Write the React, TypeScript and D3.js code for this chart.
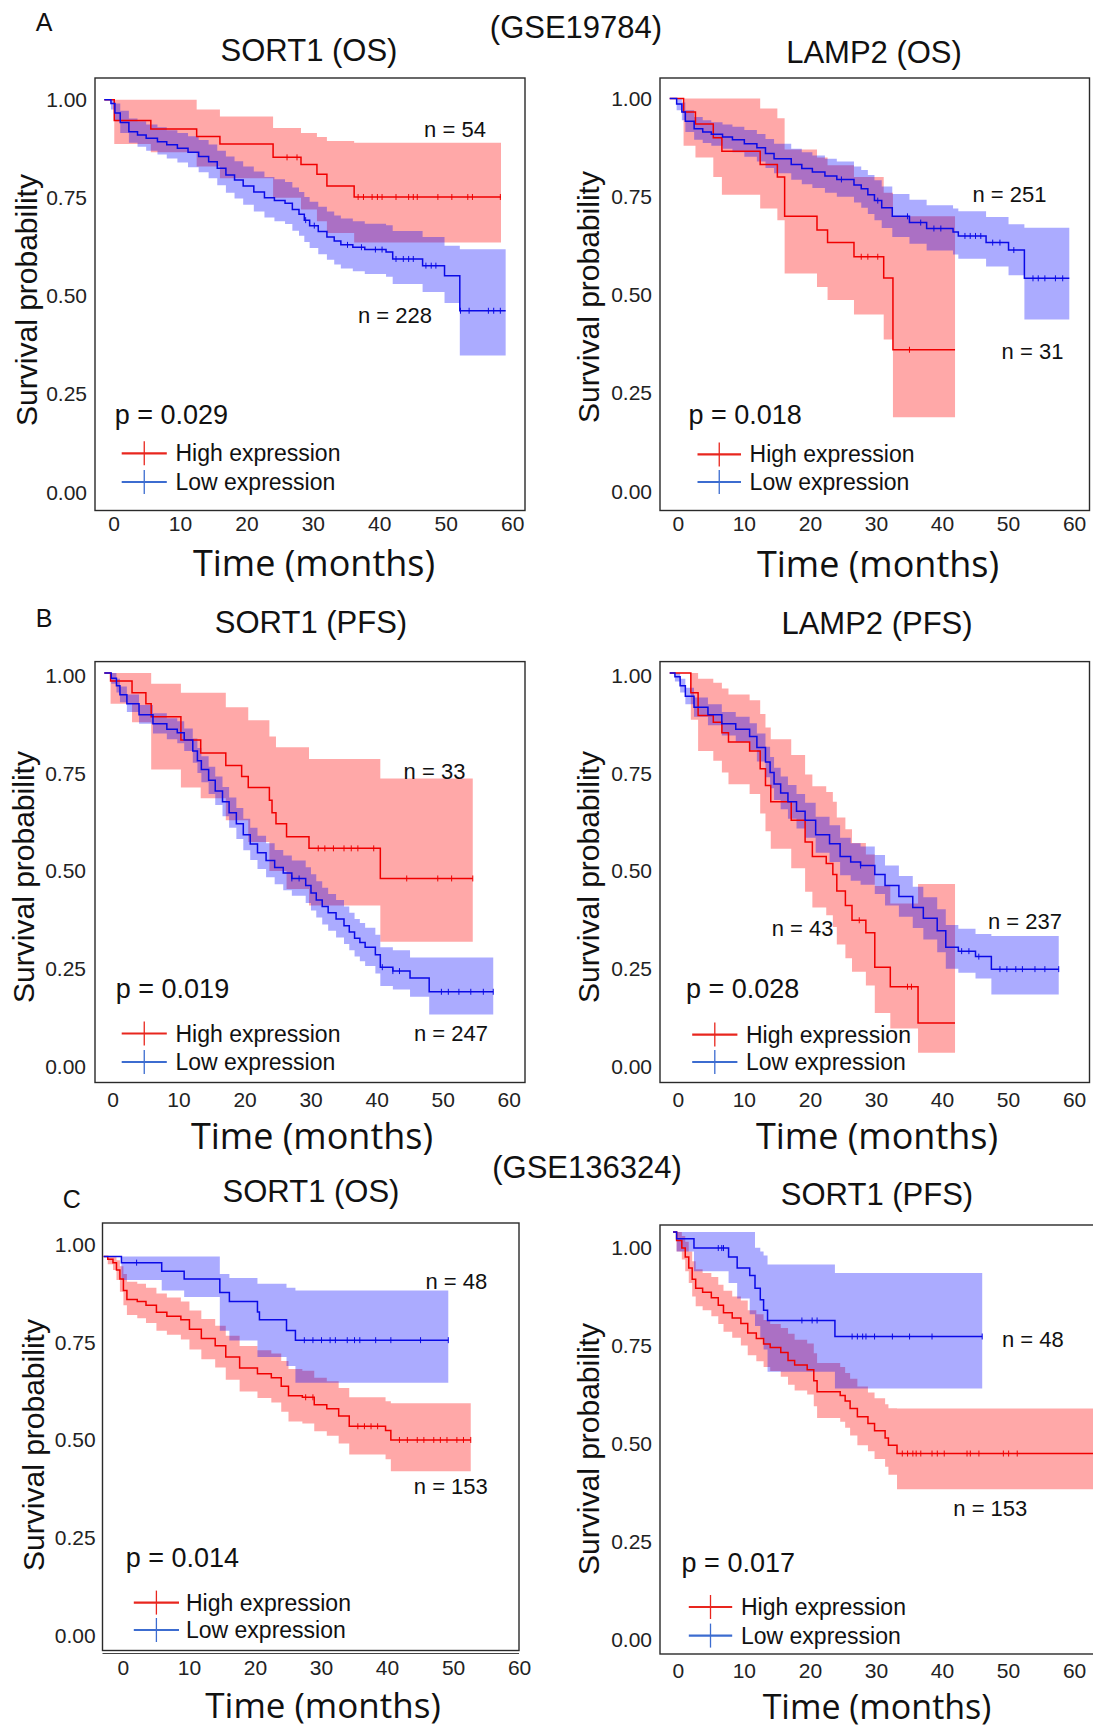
import React from 'react';
import * as d3 from 'd3';

type Pt = [number, number];
type Ci = [number, number, number];

const timeTicks = [0, 10, 20, 30, 40, 50, 60];
const probTicks = [0, 0.25, 0.5, 0.75, 1];
const legendLabels = ['High expression', 'Low expression'];
const datasetLabels = ['(GSE19784)', '(GSE136324)'];
const panelLetters = ['A', 'B', 'C'];

// ---------- A left: GSE19784 SORT1 (OS) ----------
const sortOsHigh: Pt[] = [[0, 1], [1.5, 0.947], [7.0, 0.925], [13.9, 0.906], [17.4, 0.887], [25.4, 0.853], [29.6, 0.835], [32.0, 0.81], [33.5, 0.78], [37.6, 0.752], [59.7, 0.752]];
const sortOsHighCI: Ci[] = [[0, 1, 1], [1.5, 0.887, 1], [7.0, 0.866, 1], [13.9, 0.83, 0.975], [17.4, 0.8, 0.957], [25.4, 0.75, 0.928], [29.6, 0.72, 0.915], [32.0, 0.69, 0.905], [33.5, 0.66, 0.895], [37.6, 0.636, 0.89], [59.7, 0.636, 0.89]];
const sortOsLow: Pt[] = [[0, 1], [1.0, 0.99], [1.6, 0.966], [2.4, 0.942], [3.7, 0.918], [5.0, 0.91], [6.3, 0.902], [8.0, 0.893], [9.4, 0.885], [11.0, 0.876], [12.6, 0.866], [14.2, 0.855], [15.7, 0.842], [17.0, 0.825], [18.3, 0.808], [19.6, 0.795], [20.9, 0.78], [22.5, 0.765], [24.1, 0.75], [25.6, 0.743], [27.2, 0.736], [28.3, 0.72], [29.3, 0.708], [30.1, 0.693], [30.9, 0.679], [32.2, 0.664], [33.5, 0.65], [34.6, 0.64], [35.6, 0.63], [37.4, 0.624], [39.2, 0.618], [42.4, 0.612], [43.4, 0.594], [47.9, 0.577], [51.2, 0.551], [53.5, 0.462], [60.4, 0.462]];
const sortOsLowCI: Ci[] = [[0, 1, 1], [1.0, 0.975, 1], [1.6, 0.945, 0.99], [2.4, 0.915, 0.972], [3.7, 0.89, 0.952], [5.0, 0.88, 0.945], [6.3, 0.87, 0.937], [8.0, 0.86, 0.93], [9.4, 0.85, 0.922], [11.0, 0.84, 0.915], [12.6, 0.828, 0.907], [14.2, 0.815, 0.897], [15.7, 0.8, 0.886], [17.0, 0.782, 0.87], [18.3, 0.763, 0.855], [19.6, 0.748, 0.843], [20.9, 0.732, 0.83], [22.5, 0.715, 0.817], [24.1, 0.7, 0.803], [25.6, 0.69, 0.797], [27.2, 0.683, 0.79], [28.3, 0.666, 0.776], [29.3, 0.653, 0.765], [30.1, 0.637, 0.752], [30.9, 0.622, 0.74], [32.2, 0.606, 0.727], [33.5, 0.592, 0.715], [34.6, 0.58, 0.705], [35.6, 0.57, 0.697], [37.4, 0.563, 0.69], [39.2, 0.556, 0.684], [42.4, 0.549, 0.68], [43.4, 0.53, 0.665], [47.9, 0.51, 0.65], [51.2, 0.482, 0.628], [53.5, 0.348, 0.619], [60.4, 0.348, 0.619]];
const sortOsHighCens = [27.5, 29.0, 38.2, 39.0, 40.3, 41.1, 41.8, 43.9, 45.8, 46.5, 47.1, 50.2, 52.3, 54.7, 55.4, 59.6];
const sortOsLowCens = [30.3, 31.6, 36.6, 38.7, 40.8, 41.8, 43.9, 45.0, 45.8, 46.5, 48.4, 49.2, 49.9, 53.6, 54.9, 57.8, 58.6, 59.6];

// ---------- A right: GSE19784 LAMP2 (OS) ----------
const lampOsHigh: Pt[] = [[0, 1], [2.1, 0.966], [3.9, 0.935], [6.6, 0.9], [7.9, 0.866], [13.7, 0.832], [16.3, 0.8], [17.4, 0.7], [22.3, 0.665], [23.9, 0.633], [27.9, 0.597], [32.4, 0.543], [33.8, 0.36], [43.2, 0.36]];
const lampOsHighCI: Ci[] = [[0, 1, 1], [2.1, 0.88, 1], [3.9, 0.85, 1], [6.6, 0.8, 1], [7.9, 0.755, 1], [13.7, 0.72, 0.975], [16.3, 0.69, 0.95], [17.4, 0.554, 0.87], [22.3, 0.52, 0.85], [23.9, 0.487, 0.83], [27.9, 0.45, 0.8], [32.4, 0.386, 0.76], [33.8, 0.188, 0.7], [43.2, 0.188, 0.7]];
const lampOsLow: Pt[] = [[0, 1], [1.05, 0.986], [1.84, 0.966], [2.37, 0.942], [3.7, 0.923], [5.0, 0.915], [6.3, 0.909], [8.0, 0.902], [9.5, 0.895], [11.3, 0.885], [13.2, 0.875], [14.5, 0.86], [15.8, 0.847], [18.4, 0.832], [20.0, 0.822], [21.6, 0.813], [23.5, 0.803], [25.3, 0.794], [27.9, 0.78], [29.0, 0.77], [30.0, 0.755], [31.0, 0.74], [32.1, 0.722], [33.7, 0.7], [36.3, 0.684], [38.9, 0.669], [42.9, 0.66], [43.7, 0.65], [47.9, 0.633], [51.3, 0.614], [53.7, 0.542], [60.5, 0.542]];
const lampOsLowCI: Ci[] = [[0, 1, 1], [1.05, 0.97, 1], [1.84, 0.945, 0.99], [2.37, 0.915, 0.97], [3.7, 0.895, 0.953], [5.0, 0.887, 0.945], [6.3, 0.88, 0.94], [8.0, 0.872, 0.934], [9.5, 0.863, 0.928], [11.3, 0.852, 0.92], [13.2, 0.84, 0.91], [14.5, 0.823, 0.897], [15.8, 0.81, 0.885], [18.4, 0.793, 0.872], [20.0, 0.782, 0.863], [21.6, 0.772, 0.855], [23.5, 0.76, 0.847], [25.3, 0.75, 0.84], [27.9, 0.735, 0.827], [29.0, 0.722, 0.818], [30.0, 0.706, 0.805], [31.0, 0.69, 0.792], [32.1, 0.67, 0.776], [33.7, 0.647, 0.757], [36.3, 0.63, 0.742], [38.9, 0.613, 0.728], [42.9, 0.603, 0.72], [43.7, 0.592, 0.713], [47.9, 0.572, 0.698], [51.3, 0.55, 0.68], [53.7, 0.437, 0.671], [60.5, 0.437, 0.671]];
const lampOsHighCens = [29.0, 30.0, 31.5, 36.3];
const lampOsLowCens = [26.0, 31.5, 36.0, 38.0, 40.0, 41.05, 44.7, 45.5, 46.3, 47.1, 48.9, 50.0, 52.1, 55.0, 55.8, 56.8, 58.4, 59.5];

// ---------- B left: GSE19784 SORT1 (PFS) ----------
const sortPfsHigh: Pt[] = [[0, 1], [0.95, 0.979], [4.2, 0.949], [6.3, 0.921], [7.1, 0.888], [11.6, 0.828], [14.6, 0.795], [18.4, 0.763], [20.8, 0.735], [21.8, 0.707], [25.0, 0.674], [25.4, 0.642], [26.0, 0.614], [27.6, 0.581], [31.0, 0.551], [41.8, 0.474], [55.8, 0.474]];
const sortPfsHighCI: Ci[] = [[0, 1, 1], [0.95, 0.921, 1], [4.2, 0.874, 1], [7.1, 0.753, 0.972], [11.6, 0.707, 0.949], [14.6, 0.679, 0.949], [18.4, 0.623, 0.912], [21.8, 0.567, 0.879], [25.0, 0.493, 0.837], [26.0, 0.493, 0.81], [27.6, 0.447, 0.81], [31.0, 0.405, 0.78], [41.8, 0.312, 0.73], [55.8, 0.312, 0.73]];
const sortPfsLow: Pt[] = [[0, 1], [1.05, 0.986], [1.84, 0.967], [2.37, 0.944], [3.42, 0.921], [5.26, 0.893], [7.37, 0.87], [9.47, 0.856], [11.05, 0.847], [12.1, 0.828], [13.4, 0.8], [14.1, 0.775], [14.7, 0.753], [15.8, 0.725], [16.8, 0.698], [17.9, 0.67], [18.9, 0.642], [20.0, 0.614], [21.05, 0.586], [22.1, 0.562], [23.2, 0.54], [24.5, 0.52], [25.8, 0.502], [27.1, 0.488], [28.4, 0.474], [30.5, 0.456], [31.3, 0.437], [32.1, 0.419], [33.0, 0.402], [33.9, 0.386], [35.1, 0.37], [36.3, 0.353], [37.1, 0.337], [37.9, 0.321], [38.7, 0.31], [39.5, 0.298], [41.05, 0.279], [41.8, 0.247], [43.7, 0.237], [46.3, 0.219], [49.2, 0.184], [58.9, 0.184]];
const sortPfsLowCI: Ci[] = [[0, 1, 1], [1.05, 0.972, 1], [1.84, 0.95, 0.985], [2.37, 0.925, 0.965], [3.42, 0.9, 0.945], [5.26, 0.87, 0.918], [7.37, 0.845, 0.897], [9.47, 0.83, 0.884], [11.05, 0.82, 0.876], [12.1, 0.8, 0.858], [13.4, 0.77, 0.832], [14.1, 0.744, 0.808], [14.7, 0.72, 0.787], [15.8, 0.69, 0.76], [16.8, 0.662, 0.735], [17.9, 0.633, 0.708], [18.9, 0.604, 0.681], [20.0, 0.575, 0.654], [21.05, 0.546, 0.627], [22.1, 0.521, 0.604], [23.2, 0.498, 0.583], [24.5, 0.477, 0.564], [25.8, 0.459, 0.547], [27.1, 0.444, 0.533], [28.4, 0.43, 0.52], [30.5, 0.411, 0.503], [31.3, 0.392, 0.485], [32.1, 0.374, 0.467], [33.0, 0.356, 0.45], [33.9, 0.34, 0.434], [35.1, 0.323, 0.419], [36.3, 0.306, 0.402], [37.1, 0.29, 0.386], [37.9, 0.274, 0.37], [38.7, 0.262, 0.36], [39.5, 0.25, 0.348], [41.05, 0.231, 0.33], [41.8, 0.199, 0.298], [43.7, 0.19, 0.29], [46.3, 0.171, 0.272], [49.2, 0.126, 0.272], [58.9, 0.126, 0.272]];
const sortPfsHighCens = [32.4, 33.4, 34.7, 36.3, 37.4, 38.4, 40.8, 45.8, 50.5, 52.6, 55.8];
const sortPfsLowCens = [28.4, 29.5, 42.1, 43.7, 44.7, 51.05, 52.1, 53.7, 55.5, 57.4, 58.9];

// ---------- B right: GSE19784 LAMP2 (PFS) ----------
const lampPfsHigh: Pt[] = [[0, 1], [3.2, 0.949], [4.3, 0.891], [6.6, 0.874], [7.9, 0.847], [8.9, 0.823], [12.1, 0.8], [13.7, 0.755], [14.5, 0.712], [15.3, 0.67], [18.4, 0.623], [20.5, 0.567], [21.6, 0.53], [23.7, 0.512], [24.7, 0.484], [25.3, 0.442], [26.6, 0.405], [27.6, 0.367], [29.7, 0.335], [31.05, 0.247], [33.4, 0.197], [37.6, 0.104], [43.2, 0.104]];
const lampPfsHighCI: Ci[] = [[0, 1, 1], [3.2, 0.88, 1], [4.3, 0.8, 0.985], [6.6, 0.775, 0.975], [7.9, 0.745, 0.96], [8.9, 0.715, 0.945], [12.1, 0.69, 0.93], [13.7, 0.64, 0.895], [14.5, 0.595, 0.86], [15.3, 0.55, 0.83], [18.4, 0.5, 0.79], [20.5, 0.44, 0.74], [21.6, 0.4, 0.71], [23.7, 0.38, 0.695], [24.7, 0.35, 0.67], [25.3, 0.305, 0.63], [26.6, 0.27, 0.6], [27.6, 0.235, 0.565], [29.7, 0.2, 0.535], [31.05, 0.13, 0.455], [33.4, 0.09, 0.41], [37.6, 0.028, 0.46], [43.2, 0.028, 0.46]];
const lampPfsLow: Pt[] = [[0, 1], [0.79, 0.99], [1.58, 0.967], [2.37, 0.94], [3.68, 0.912], [5.79, 0.893], [7.89, 0.87], [10.0, 0.856], [12.1, 0.837], [13.2, 0.809], [14.5, 0.772], [15.2, 0.745], [15.8, 0.716], [16.8, 0.693], [17.9, 0.67], [19.2, 0.646], [20.5, 0.623], [22.1, 0.586], [24.2, 0.563], [25.8, 0.53], [27.4, 0.516], [28.9, 0.507], [31.05, 0.484], [32.6, 0.456], [34.7, 0.428], [36.8, 0.4], [38.4, 0.372], [40.5, 0.34], [41.8, 0.298], [43.7, 0.288], [46.3, 0.274], [48.7, 0.242], [58.9, 0.242]];
const lampPfsLowCI: Ci[] = [[0, 1, 1], [0.79, 0.978, 1], [1.58, 0.95, 0.985], [2.37, 0.92, 0.962], [3.68, 0.888, 0.937], [5.79, 0.866, 0.92], [7.89, 0.84, 0.9], [10.0, 0.824, 0.888], [12.1, 0.803, 0.871], [13.2, 0.773, 0.845], [14.5, 0.733, 0.811], [15.2, 0.705, 0.785], [15.8, 0.675, 0.757], [16.8, 0.651, 0.735], [17.9, 0.627, 0.713], [19.2, 0.602, 0.69], [20.5, 0.578, 0.668], [22.1, 0.54, 0.632], [24.2, 0.516, 0.61], [25.8, 0.482, 0.578], [27.4, 0.468, 0.564], [28.9, 0.458, 0.556], [31.05, 0.434, 0.534], [32.6, 0.405, 0.507], [34.7, 0.376, 0.48], [36.8, 0.347, 0.453], [38.4, 0.318, 0.426], [40.5, 0.285, 0.395], [41.8, 0.243, 0.355], [43.7, 0.233, 0.345], [46.3, 0.218, 0.332], [48.7, 0.177, 0.327], [58.9, 0.177, 0.327]];
const lampPfsHighCens = [28.7, 36.0, 36.6];
const lampPfsLowCens = [28.9, 44.2, 45.3, 46.8, 50.0, 51.05, 52.4, 53.4, 55.3, 56.8, 58.9];

// ---------- C left: GSE136324 SORT1 (OS) ----------
const cOsHigh: Pt[] = [[0, 1], [0.63, 0.993], [1.42, 0.984], [1.95, 0.965], [2.47, 0.942], [3.0, 0.913], [3.53, 0.89], [5.1, 0.885], [6.42, 0.875], [8.0, 0.857], [9.58, 0.847], [11.7, 0.838], [13.0, 0.814], [14.8, 0.79], [16.9, 0.772], [18.5, 0.743], [20.6, 0.715], [23.3, 0.7], [25.4, 0.69], [26.9, 0.668], [28.0, 0.644], [30.1, 0.64], [31.9, 0.621], [33.8, 0.611], [35.6, 0.592], [37.2, 0.566], [42.7, 0.555], [43.5, 0.531], [55.6, 0.531]];
const cOsHighCI: Ci[] = [[0, 1, 1], [0.63, 0.98, 1], [1.42, 0.965, 1], [1.95, 0.94, 0.99], [2.47, 0.91, 0.975], [3.0, 0.875, 0.955], [3.53, 0.85, 0.935], [5.1, 0.842, 0.93], [6.42, 0.83, 0.92], [8.0, 0.81, 0.905], [9.58, 0.8, 0.895], [11.7, 0.788, 0.885], [13.0, 0.762, 0.862], [14.8, 0.737, 0.84], [16.9, 0.716, 0.823], [18.5, 0.685, 0.797], [20.6, 0.655, 0.771], [23.3, 0.638, 0.76], [25.4, 0.627, 0.752], [26.9, 0.603, 0.733], [28.0, 0.578, 0.712], [30.1, 0.573, 0.708], [31.9, 0.553, 0.69], [33.8, 0.542, 0.681], [35.6, 0.522, 0.664], [37.2, 0.494, 0.64], [42.7, 0.482, 0.63], [43.5, 0.451, 0.625], [55.6, 0.451, 0.625]];
const cOsLow: Pt[] = [[0, 1], [2.7, 0.984], [8.8, 0.962], [12.2, 0.942], [17.6, 0.908], [19.05, 0.885], [23.3, 0.858], [23.6, 0.838], [27.7, 0.811], [29.05, 0.786], [52.2, 0.786]];
const cOsLowCI: Ci[] = [[0, 1, 1], [2.7, 0.94, 1], [8.8, 0.913, 1], [12.2, 0.896, 1], [17.6, 0.81, 0.955], [19.05, 0.785, 0.945], [23.3, 0.743, 0.93], [27.7, 0.72, 0.92], [29.05, 0.677, 0.913], [52.2, 0.677, 0.913]];
const cOsHighCens = [30.6, 31.7, 38.5, 39.5, 40.5, 41.5, 44.8, 46.0, 47.5, 48.5, 50.0, 51.0, 52.0, 53.5, 54.5, 55.6];
const cOsLowCens = [5.0, 30.4, 31.7, 33.0, 34.3, 35.1, 36.9, 38.0, 38.8, 41.2, 43.5, 48.0, 52.2];

// ---------- C right: GSE136324 SORT1 (PFS) ----------
const cPfsHigh: Pt[] = [[0, 1], [0.53, 0.978], [1.32, 0.959], [1.84, 0.936], [2.37, 0.908], [2.89, 0.879], [3.42, 0.856], [4.47, 0.846], [5.79, 0.832], [6.84, 0.813], [7.63, 0.794], [8.95, 0.78], [10.26, 0.766], [11.3, 0.742], [12.6, 0.728], [13.7, 0.714], [14.7, 0.705], [16.3, 0.692], [17.4, 0.672], [18.4, 0.66], [20.3, 0.648], [21.3, 0.62], [21.8, 0.592], [25.3, 0.582], [26.05, 0.568], [26.8, 0.549], [27.9, 0.528], [29.5, 0.511], [30.5, 0.492], [32.1, 0.474], [32.6, 0.455], [33.9, 0.434], [66, 0.434]];
const cPfsHighCI: Ci[] = [[0, 1, 1], [0.53, 0.95, 1], [1.32, 0.93, 0.99], [1.84, 0.9, 0.975], [2.37, 0.87, 0.95], [2.89, 0.835, 0.925], [3.42, 0.81, 0.905], [4.47, 0.8, 0.895], [5.79, 0.785, 0.885], [6.84, 0.765, 0.865], [7.63, 0.745, 0.85], [8.95, 0.73, 0.835], [10.26, 0.71, 0.825], [11.3, 0.685, 0.8], [12.6, 0.67, 0.79], [13.7, 0.655, 0.775], [14.7, 0.645, 0.765], [16.3, 0.63, 0.755], [17.4, 0.61, 0.74], [18.4, 0.595, 0.725], [20.3, 0.585, 0.715], [21.3, 0.555, 0.69], [21.8, 0.525, 0.665], [25.3, 0.515, 0.655], [26.05, 0.5, 0.64], [26.8, 0.48, 0.625], [27.9, 0.455, 0.605], [29.5, 0.44, 0.59], [30.5, 0.42, 0.575], [32.1, 0.4, 0.56], [32.6, 0.38, 0.55], [33.9, 0.343, 0.549], [66, 0.343, 0.549]];
const cPfsLow: Pt[] = [[0, 1], [0.53, 0.983], [3.16, 0.959], [8.4, 0.936], [9.7, 0.908], [11.6, 0.889], [12.4, 0.856], [13.2, 0.827], [13.7, 0.8], [14.3, 0.774], [24.5, 0.733], [46.8, 0.733]];
const cPfsLowCI: Ci[] = [[0, 1, 1], [0.53, 0.95, 1], [3.16, 0.9, 1], [8.4, 0.87, 1], [9.7, 0.83, 1], [11.6, 0.79, 1], [12.4, 0.76, 0.96], [13.2, 0.73, 0.95], [13.7, 0.7, 0.94], [14.3, 0.643, 0.917], [24.5, 0.6, 0.895], [46.8, 0.6, 0.895]];
const cPfsHighCens = [34.7, 35.5, 36.3, 36.8, 37.5, 39.2, 40.0, 41.05, 44.5, 45.0, 46.3, 50.0, 50.8, 52.1];
const cPfsLowCens = [6.84, 7.37, 7.63, 19.5, 21.05, 21.8, 27.1, 27.9, 28.7, 29.2, 30.5, 33.2, 35.8, 39.2, 46.8];

interface Spec {
  title: string; tx: number; ty: number;
  frame: [number, number, number, number];
  xl: [number, number]; xc0: number; xTickY: number;
  yl: [number, number]; dy: number; yTickX: number;
  ylabX: number; ylabY: number; xtX: number; xtY: number; xtSize: number;
  high: Pt[]; highCI: Ci[]; highCens: number[];
  low: Pt[]; lowCI: Ci[]; lowCens: number[];
  p: string; px: number; py: number;
  lg: { x1: number; x2: number; tx: number; yH: number; yL: number };
  nH: { t: string; x: number; y: number }; nL: { t: string; x: number; y: number };
  doubleBottom?: boolean;
}

const specs: Spec[] = [
  {
    title: 'SORT1 (OS)', tx: 309, ty: 50, frame: [95, 78, 525, 510.5],
    xl: [114, 512.7], xc0: 104.3, xTickY: 523, yl: [492, 99.7], dy: 0, yTickX: 87,
    ylabX: 26, ylabY: 300, xtX: 314, xtY: 562, xtSize: 36,
    high: sortOsHigh, highCI: sortOsHighCI, highCens: sortOsHighCens,
    low: sortOsLow, lowCI: sortOsLowCI, lowCens: sortOsLowCens,
    p: 'p = 0.029', px: 114.7, py: 414.5,
    lg: { x1: 121.7, x2: 166.8, tx: 175.5, yH: 453.3, yL: 482 },
    nH: { t: 'n = 54', x: 455, y: 129.8 }, nL: { t: 'n = 228', x: 395, y: 315.3 },
  },
  {
    title: 'LAMP2 (OS)', tx: 874, ty: 52, frame: [660, 78, 1089.5, 510.5],
    xl: [678.3, 1074.6], xc0: 669.7, xTickY: 523, yl: [491, 98.6], dy: 0, yTickX: 652,
    ylabX: 588, ylabY: 297, xtX: 878, xtY: 563, xtSize: 36,
    high: lampOsHigh, highCI: lampOsHighCI, highCens: lampOsHighCens,
    low: lampOsLow, lowCI: lampOsLowCI, lowCens: lampOsLowCens,
    p: 'p = 0.018', px: 688.5, py: 414.5,
    lg: { x1: 697.5, x2: 741, tx: 749.6, yH: 454.4, yL: 482 },
    nH: { t: 'n = 31', x: 1032.5, y: 351.8 }, nL: { t: 'n = 251', x: 1009.4, y: 194.9 },
  },
  {
    title: 'SORT1 (PFS)', tx: 311, ty: 622, frame: [95, 661.6, 525, 1082.5],
    xl: [113, 509.2], xc0: 104.3, xTickY: 1099, yl: [1066.2, 675.4], dy: -2.5, yTickX: 86,
    ylabX: 23.3, ylabY: 877, xtX: 312, xtY: 1135, xtSize: 36,
    high: sortPfsHigh, highCI: sortPfsHighCI, highCens: sortPfsHighCens,
    low: sortPfsLow, lowCI: sortPfsLowCI, lowCens: sortPfsLowCens,
    p: 'p = 0.019', px: 115.8, py: 989,
    lg: { x1: 121.7, x2: 166.8, tx: 175.5, yH: 1033.5, yL: 1062 },
    nH: { t: 'n = 33', x: 434.5, y: 771.7 }, nL: { t: 'n = 247', x: 451, y: 1033.5 },
  },
  {
    title: 'LAMP2 (PFS)', tx: 877, ty: 623, frame: [660, 661.6, 1089.5, 1082.5],
    xl: [678.3, 1074.6], xc0: 669.7, xTickY: 1099, yl: [1066.2, 675.4], dy: -2.5, yTickX: 652,
    ylabX: 588, ylabY: 877, xtX: 877, xtY: 1135, xtSize: 36,
    high: lampPfsHigh, highCI: lampPfsHighCI, highCens: lampPfsHighCens,
    low: lampPfsLow, lowCI: lampPfsLowCI, lowCens: lampPfsLowCens,
    p: 'p = 0.028', px: 686, py: 989,
    lg: { x1: 692.2, x2: 737.4, tx: 746, yH: 1034.6, yL: 1062 },
    nH: { t: 'n = 43', x: 802.6, y: 928 }, nL: { t: 'n = 237', x: 1025, y: 921.5 },
  },
  {
    title: 'SORT1 (OS)', tx: 311, ty: 1191, frame: [102.5, 1223, 519, 1650.5],
    xl: [123.4, 519.6], xc0: 103.6, xTickY: 1667, yl: [1635.6, 1244.2], dy: 12.2, yTickX: 95.6,
    ylabX: 33.7, ylabY: 1445, xtX: 323, xtY: 1704, xtSize: 35,
    high: cOsHigh, highCI: cOsHighCI, highCens: cOsHighCens,
    low: cOsLow, lowCI: cOsLowCI, lowCens: cOsLowCens,
    p: 'p = 0.014', px: 125.7, py: 1558,
    lg: { x1: 133.8, x2: 179, tx: 186, yH: 1602.6, yL: 1630 },
    nH: { t: 'n = 153', x: 450.8, y: 1486 }, nL: { t: 'n = 48', x: 456.3, y: 1281 },
    doubleBottom: true,
  },
  {
    title: 'SORT1 (PFS)', tx: 877, ty: 1194.5, frame: [660, 1225, 1110, 1654],
    xl: [678.3, 1074.6], xc0: 673.1, xTickY: 1670, yl: [1639.3, 1247.9], dy: -15.9, yTickX: 652,
    ylabX: 588, ylabY: 1449, xtX: 877, xtY: 1706, xtSize: 34,
    high: cPfsHigh, highCI: cPfsHighCI, highCens: cPfsHighCens,
    low: cPfsLow, lowCI: cPfsLowCI, lowCens: cPfsLowCens,
    p: 'p = 0.017', px: 681.6, py: 1562.8,
    lg: { x1: 688.8, x2: 732.2, tx: 741, yH: 1607, yL: 1635.6 },
    nH: { t: 'n = 153', x: 990.3, y: 1508 }, nL: { t: 'n = 48', x: 1032.8, y: 1339 },
  },
];

const SANS = '"Liberation Sans", Arial, Helvetica, sans-serif';
const RED = '#f00000';
const BLUE = '#0a0ae6';
const LEG_RED = '#e8261e';
const LEG_BLUE = '#3c6cd0';

function valAt(c: Pt[], t: number) {
  let v = c[0][1];
  for (const p of c) if (p[0] <= t) v = p[1];
  return v;
}

function Panel({ s }: { s: Spec }) {
  const ppm = (s.xl[1] - s.xl[0]) / 60;
  const xL = d3.scaleLinear().domain([0, 60]).range(s.xl);
  const xC = d3.scaleLinear().domain([0, 60]).range([s.xc0, s.xc0 + 60 * ppm]);
  const yL = d3.scaleLinear().domain([0, 1]).range(s.yl);
  const yC = d3.scaleLinear().domain([0, 1]).range([s.yl[0] + s.dy, s.yl[1] + s.dy]);
  const area = d3.area<Ci>().x(d => xC(d[0])).y0(d => yC(d[1])).y1(d => yC(d[2])).curve(d3.curveStepAfter);
  const line = d3.line<Pt>().x(d => xC(d[0])).y(d => yC(d[1])).curve(d3.curveStepAfter);
  const fmt = d3.format('.2f');
  const [fx0, fy0, fx1, fy1] = s.frame;
  const cens = (c: Pt[], ts: number[], col: string) =>
    ts.map((t, i) => {
      const x = xC(t), y = yC(valAt(c, t));
      return <line key={i} x1={x} x2={x} y1={y - 3} y2={y + 3} stroke={col} strokeWidth={1} />;
    });
  return (
    <g>
      <text x={s.tx} y={s.ty} textAnchor="middle" dominantBaseline="central" fontFamily={SANS} fontSize={31} fill="#111">{s.title}</text>
      <path d={area(s.highCI) || ''} fill="#ff0000" fillOpacity={0.34} />
      <path d={area(s.lowCI) || ''} fill="#0000ff" fillOpacity={0.33} />
      <path d={line(s.high) || ''} fill="none" stroke={RED} strokeWidth={1.5} />
      <path d={line(s.low) || ''} fill="none" stroke={BLUE} strokeWidth={1.5} />
      {cens(s.high, s.highCens, RED)}
      {cens(s.low, s.lowCens, BLUE)}
      <rect x={fx0} y={fy0} width={fx1 - fx0} height={fy1 - fy0} fill="none" stroke="#2a2a2a" strokeWidth={1.4} />
      {s.doubleBottom && <line x1={fx0} x2={fx1} y1={fy1 + 3} y2={fy1 + 3} stroke="#444" strokeWidth={1.2} />}
      {probTicks.map(v => (
        <text key={v} x={s.yTickX} y={yL(v)} textAnchor="end" dominantBaseline="central" fontFamily={SANS} fontSize={21} fill="#222">{fmt(v)}</text>
      ))}
      {timeTicks.map(v => (
        <text key={v} x={xL(v)} y={s.xTickY} textAnchor="middle" dominantBaseline="central" fontFamily={SANS} fontSize={21} fill="#222">{v}</text>
      ))}
      <text transform={`translate(${s.ylabX},${s.ylabY}) rotate(-90)`} textAnchor="middle" dominantBaseline="central" fontFamily={SANS} fontSize={30} fill="#111">Survival probability</text>
      <text x={s.xtX} y={s.xtY} textAnchor="middle" dominantBaseline="central" fontFamily='"Open Sans", "Noto Sans", sans-serif' fontSize={s.xtSize} fill="#111">Time (months)</text>
      <text x={s.px} y={s.py} dominantBaseline="central" fontFamily={SANS} fontSize={27} fill="#111">{s.p}</text>
      <text x={s.nH.x} y={s.nH.y} textAnchor="middle" dominantBaseline="central" fontFamily={SANS} fontSize={22} fill="#111">{s.nH.t}</text>
      <text x={s.nL.x} y={s.nL.y} textAnchor="middle" dominantBaseline="central" fontFamily={SANS} fontSize={22} fill="#111">{s.nL.t}</text>
      {[s.lg.yH, s.lg.yL].map((y, i) => {
        const col = i === 0 ? LEG_RED : LEG_BLUE;
        const mx = (s.lg.x1 + s.lg.x2) / 2;
        return (
          <g key={i}>
            <line x1={s.lg.x1} x2={s.lg.x2} y1={y} y2={y} stroke={col} strokeWidth={2.2} />
            <line x1={mx} x2={mx} y1={y - 12} y2={y + 12} stroke={col} strokeWidth={1.3} />
            <text x={s.lg.tx} y={y} dominantBaseline="central" fontFamily={SANS} fontSize={23} fill="#111">{legendLabels[i]}</text>
          </g>
        );
      })}
    </g>
  );
}

export default function App() {
  return (
    <svg width={1093} height={1729} viewBox="0 0 1093 1729" style={{ position: 'absolute', left: 0, top: 0, background: '#fff' }}>
      <rect x={0} y={0} width={1093} height={1729} fill="#fff" />
      {specs.map((s, i) => <Panel key={i} s={s} />)}
      <text x={576} y={27.5} textAnchor="middle" dominantBaseline="central" fontFamily={SANS} fontSize={31} fill="#111">{datasetLabels[0]}</text>
      <text x={587} y={1167} textAnchor="middle" dominantBaseline="central" fontFamily={SANS} fontSize={31} fill="#111">{datasetLabels[1]}</text>
      <text x={44} y={22} textAnchor="middle" dominantBaseline="central" fontFamily={SANS} fontSize={25} fill="#111">{panelLetters[0]}</text>
      <text x={44} y={617.6} textAnchor="middle" dominantBaseline="central" fontFamily={SANS} fontSize={25} fill="#111">{panelLetters[1]}</text>
      <text x={71.7} y={1199} textAnchor="middle" dominantBaseline="central" fontFamily={SANS} fontSize={25} fill="#111">{panelLetters[2]}</text>
    </svg>
  );
}
